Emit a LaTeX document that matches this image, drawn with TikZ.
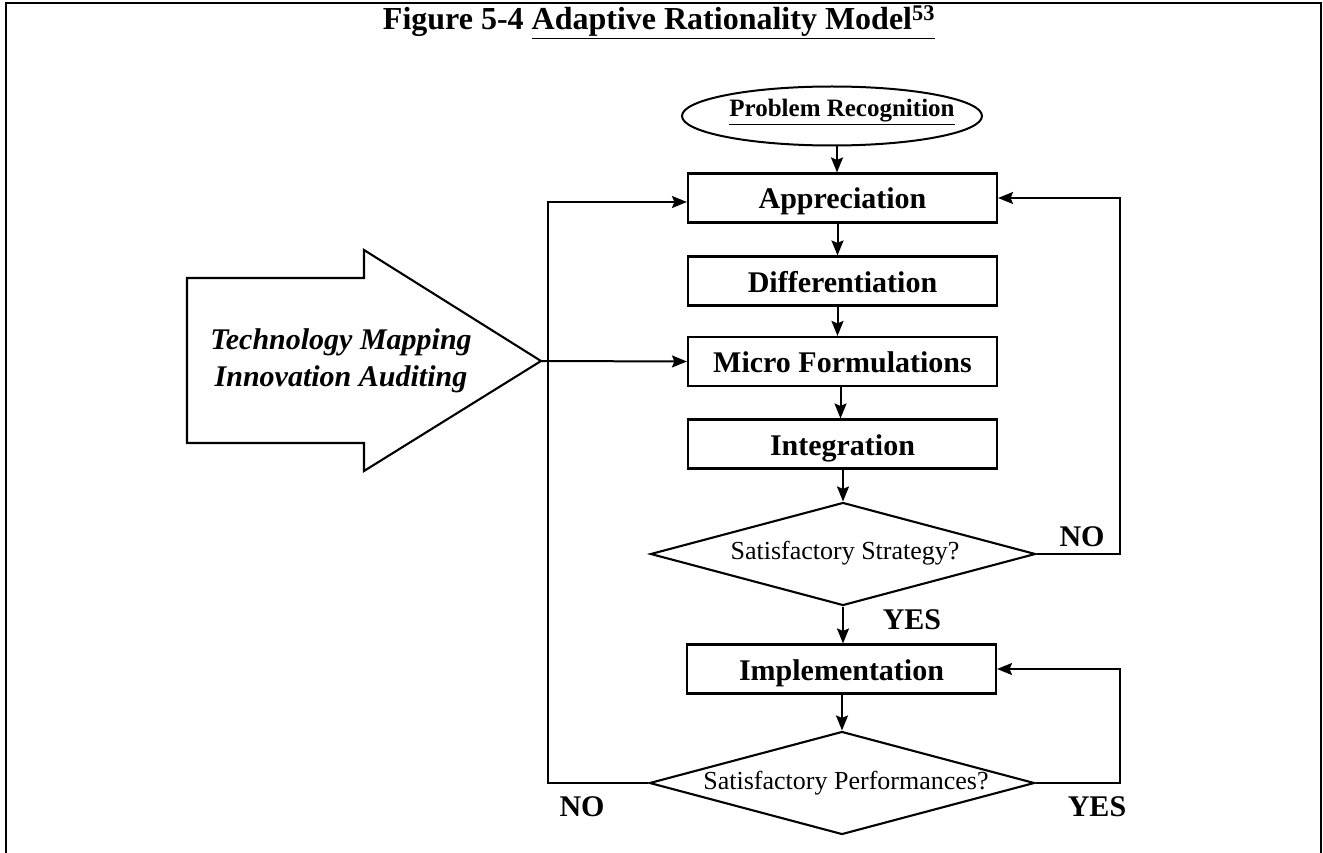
\documentclass[tikz,border=0pt]{standalone}
\usepackage{fontspec}
\setmainfont{Liberation Serif}
\usetikzlibrary{shapes.geometric,arrows.meta,calc}
\begin{document}
\begin{tikzpicture}[x=1pt,y=-1pt,
  box/.style={draw,line width=2.1pt,minimum width=309pt,minimum height=49pt,inner sep=0pt,text height=22pt,text depth=0pt,font=\fontsize{30}{34}\selectfont\bfseries},
  dia/.style={draw,diamond,line width=2.1pt,minimum width=385pt,minimum height=103pt,inner sep=0pt},
  dtext/.style={font=\fontsize{26}{30}\selectfont,inner sep=0pt},
  lbl/.style={font=\fontsize{30}{34}\selectfont\bfseries,inner sep=0pt},
  conn/.style={line width=2pt},
  arr/.style={conn,-{Stealth[length=15pt,width=12pt,inset=2.5pt]}},
]
\useasboundingbox (0,0) rectangle (1323,853);
\draw[line width=2.4pt] (6,853) -- (6,3) -- (1321,3) -- (1321,853);

\node[font=\fontsize{32}{36}\selectfont\bfseries,inner sep=0pt] (title) at (659,22)
  {Figure 5-4 \underline{Adaptive Rationality Model\textsuperscript{53}}};

\node[draw,ellipse,line width=2pt,minimum width=300pt,minimum height=59pt,inner sep=0pt] (PR) at (832,116) {};
\node[font=\fontsize{25}{28}\selectfont\bfseries,inner sep=0pt] (PRt) at (842,112) {\underline{Problem Recognition}};

\node[box] (App) at (842.5,198) {Appreciation};
\node[box] (Dif) at (842.5,281) {Differentiation};
\node[box] (Mic) at (842.5,361.5) {Micro Formulations};
\node[box] (Int) at (842.5,444) {Integration};
\node[dia] (D1) at (843,554) {};
\node[dtext] (D1t) at (845,553) {Satisfactory Strategy?};
\node[box] (Imp) at (841.5,669) {Implementation};
\node[dia] (D2) at (842,783) {};
\node[dtext] (D2t) at (846,783) {Satisfactory Performances?};

\draw[line width=2.1pt] (187,278) -- (364,278) -- (364,250) -- (541,361) -- (364,471) -- (364,443) -- (187,443) -- cycle;
\coordinate (tip) at (541,361);
\node[font=\fontsize{30}{37}\selectfont\bfseries\itshape,align=center,inner sep=0pt] (TM) at (341,361)
  {Technology Mapping\\Innovation Auditing};

\coordinate (rline) at (1120,0);
\coordinate (lline) at (548,0);

\draw[arr] ([xshift=5pt]PR.south) -- ([xshift=5pt]PR.south |- App.north);
\draw[arr] ([xshift=-5pt]App.south) -- ([xshift=-5pt]Dif.north);
\draw[arr] ([xshift=-5pt]Dif.south) -- ([xshift=-5pt]Mic.north);
\draw[arr] ([xshift=-2pt]Mic.south) -- ([xshift=-2pt]Int.north);
\draw[arr] (Int.south -| D1.north) -- (D1.north);
\draw[arr] (D1.south) -- (D1.south |- Imp.north);
\draw[arr] (Imp.south -| D2.north) -- (D2.north);

\draw[arr] (D1.east) -- (D1.east -| rline) |- (App.east);
\draw[arr] (D2.east) -- (D2.east -| rline) |- (Imp.east);
\draw[arr] (D2.west) -- (D2.west -| lline) |- ([yshift=-4pt]App.west);
\draw[arr] (tip) -- (Mic.west);

\node[lbl] (yes1) at (912,620) {YES};
\node[lbl] (no1) at (1082,537) {NO};
\node[lbl] (yes2) at (1097,807) {YES};
\node[lbl] (no2) at (582,807) {NO};
\end{tikzpicture}
\end{document}
